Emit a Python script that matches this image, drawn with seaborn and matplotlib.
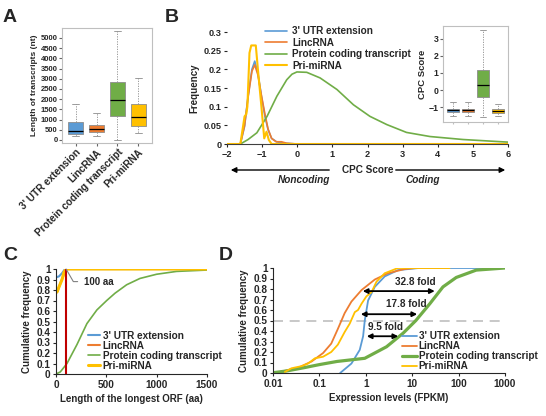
# Vier Panels: Transkriptlaengen, CPC-Score, ORF-Laenge, Expression

import pandas as pd
import matplotlib
matplotlib.use("Agg")
import matplotlib.pyplot as plt
import seaborn as sns

sns.set_style("ticks")
plt.rcParams['font.family'] = ['Liberation Sans', 'DejaVu Sans']
plt.rcParams['font.weight'] = 'bold'
plt.rcParams['axes.labelweight'] = 'bold'

gruppen = ["3' UTR extension", "LincRNA", "Protein coding transcript", "Pri-miRNA"]
farben = dict(zip(gruppen, ["#5B9BD5", "#ED7D31", "#70AD47", "#FFC000"]))

# A: Laenge der Transkripte (min, q1, median, q3, max)
laenge_utr = [200, 280, 450, 860, 1750]
laenge_linc = [200, 400, 560, 750, 1300]
laenge_pct = [0, 1150, 1950, 2820, 5350]
laenge_pri = [330, 680, 1120, 1760, 3020]

# B Inset: CPC Score (min, q1, median, q3, max)
cpc_utr = [-1.55, -1.3, -1.2, -1.1, -0.7]
cpc_linc = [-1.55, -1.3, -1.2, -1.1, -0.7]
cpc_pct = [-1.6, -0.4, 0.3, 1.2, 3.5]
cpc_pri = [-1.5, -1.35, -1.25, -1.1, -0.85]

# B: Frequenz der CPC Scores
cpc_x_utr = [-2, -1.62, -1.5, -1.4, -1.29, -1.21, -1.12, -1.02, -0.92, -0.83, -0.73, -0.59, -0.35, 0, 6]
cpc_y_utr = [0, 0, 0.047, 0.128, 0.2, 0.222, 0.19, 0.128, 0.074, 0.038, 0.015, 0.006, 0.002, 0, 0]
cpc_x_linc = [-2, -1.62, -1.5, -1.4, -1.29, -1.21, -1.12, -1.02, -0.92, -0.83, -0.73, -0.6, -0.45, -0.3, 0, 6]
cpc_y_linc = [0, 0, 0.05, 0.125, 0.195, 0.212, 0.185, 0.13, 0.08, 0.04, 0.015, 0.006, 0.006, 0.002, 0, 0]
cpc_x_pct = [-2, -1.62, -1.4, -1.15, -0.86, -0.58, -0.3, -0.15, -0.01, 0.27, 0.65, 1.13, 1.6, 2.07,
             2.55, 3.11, 3.78, 4.72, 6.0]
cpc_y_pct = [0, 0, 0.012, 0.03, 0.074, 0.128, 0.172, 0.187, 0.193, 0.192, 0.177, 0.146, 0.105, 0.074,
             0.052, 0.031, 0.020, 0.012, 0.005]
cpc_x_pri = [-2, -1.62, -1.5, -1.45, -1.42, -1.36, -1.31, -1.18, -1.12, -1.02, -0.94, -0.875, -0.81, -0.73, 6]
cpc_y_pri = [0, 0, 0.074, 0.08, 0.1, 0.244, 0.264, 0.264, 0.2, 0.1, 0.015, 0.033, 0.011, 0, 0]

# C: Laenge des laengsten ORF, kumulativ
orf_x_utr = [0, 30, 60, 90, 1500]
orf_y_utr = [0.92, 0.93, 0.96, 1.0, 1.0]
orf_x_linc = [0, 20, 50, 80, 95, 1500]
orf_y_linc = [0.77, 0.80, 0.88, 0.95, 1.0, 1.0]
orf_x_pct = [0, 43, 109, 208, 307, 406, 504, 587, 702, 834, 999, 1197, 1500]
orf_y_pct = [0, 0.02, 0.10, 0.28, 0.48, 0.61, 0.70, 0.77, 0.85, 0.91, 0.95, 0.977, 0.99]
orf_x_pri = [0, 10, 30, 60, 80, 100, 1500]
orf_y_pri = [0.80, 0.78, 0.83, 0.90, 0.97, 1.0, 1.0]
orf_grenze = 100

# D: Expression (FPKM), kumulativ
fpkm_x_utr = [0.28, 0.49, 0.74, 0.875, 0.95, 1.12, 1.56, 2.56, 4.95, 14, 500]
fpkm_y_utr = [0, 0.09, 0.22, 0.35, 0.50, 0.69, 0.82, 0.92, 0.98, 1.0, 1.0]
fpkm_x_linc = [0.011, 0.035, 0.068, 0.12, 0.18, 0.25, 0.35, 0.49, 0.81, 1.56, 3.0, 6.9, 12, 60]
fpkm_y_linc = [0, 0.05, 0.11, 0.19, 0.28, 0.42, 0.57, 0.68, 0.79, 0.89, 0.95, 0.99, 1.0, 1.0]
fpkm_x_pct = [0.009, 0.02, 0.046, 0.1, 0.24, 0.95, 2.8, 6.4, 12, 24, 46, 89, 240, 1000]
fpkm_y_pct = [0, 0.02, 0.05, 0.08, 0.11, 0.14, 0.25, 0.38, 0.50, 0.66, 0.82, 0.91, 0.98, 1.0]
fpkm_x_pri = [0.018, 0.025, 0.041, 0.057, 0.08, 0.12, 0.18, 0.25, 0.35, 0.45, 0.58, 0.68, 0.81,
              1.03, 1.33, 1.7, 2.56, 4.95, 64]
fpkm_y_pri = [0.01, 0.045, 0.065, 0.09, 0.14, 0.155, 0.20, 0.27, 0.39, 0.47, 0.58, 0.60, 0.66,
              0.73, 0.77, 0.87, 0.95, 1.0, 1.0]
fold_links = [0.86, 0.78, 1.05]
fold_rechts = [30.6, 12.8, 5.0]
fold_y = [0.78, 0.56, 0.35]
fold_text = ["32.8 fold", "17.8 fold", "9.5 fold"]
fold_text_x = [11.4, 7.5, 2.6]
fold_text_y = [0.87, 0.655, 0.435]


W, H = 546, 416
def box(x0, y0, x1, y1):
    # Pixel -> Figure-Koordinaten
    return [x0 / W, 1 - y1 / H, (x1 - x0) / W, (y1 - y0) / H]

fig = plt.figure(figsize=(5.46, 4.16), dpi=100)
ax_a = fig.add_axes(box(62, 28, 152, 143))
ax_b = fig.add_axes(box(227, 32, 508, 144))
ax_i = fig.add_axes(box(443, 26, 508, 122))
ax_c = fig.add_axes(box(56, 269, 207, 374))
ax_d = fig.add_axes(box(273, 268, 505, 373))

grau = "#bfbfbf"


def boxen(ax, werte, breite):
    df = pd.DataFrame({"Typ": [g for g in gruppen for _ in range(5)],
                       "Wert": [v for w in werte for v in w]})
    sns.boxplot(data=df, x="Typ", y="Wert", hue="Typ", palette=farben, saturation=1,
                whis=(0, 100), width=breite, linewidth=0.6, linecolor="#8c8c8c",
                medianprops=dict(color="black", linewidth=0.9),
                whiskerprops=dict(linestyle=(0, (1.5, 1.5))), ax=ax)
    for s in ax.spines.values():
        s.set_visible(True)
        s.set_color(grau)
        s.set_linewidth(0.8)
    ax.set_xlim(-0.65, 3.65)


# A
boxen(ax_a, [laenge_utr, laenge_linc, laenge_pct, laenge_pri], 0.68)
ax_a.set_ylim(-150, 5490)
ax_a.set_yticks(range(0, 5001, 500))
ax_a.set_ylabel("Length of transcripts (nt)", fontsize=6, labelpad=2)
ax_a.set_xlabel("")
ax_a.set_xticks(range(4))
ax_a.set_xticklabels(gruppen, rotation=45, ha="right", rotation_mode="anchor", fontsize=7.2)
ax_a.tick_params(axis="y", labelsize=5.5, length=2, pad=1, color="#666666")
ax_a.tick_params(axis="x", length=2, pad=1, color="#666666")

# B
linien_b = [(cpc_x_utr, cpc_y_utr, 1.2), (cpc_x_linc, cpc_y_linc, 1.2),
            (cpc_x_pct, cpc_y_pct, 1.2), (cpc_x_pri, cpc_y_pri, 1.5)]
for g, (xs, ys, lw) in zip(gruppen, linien_b):
    sns.lineplot(x=xs, y=ys, color=farben[g], lw=lw, label=g, estimator=None, sort=False, ax=ax_b)
ax_b.set_xlim(-2, 6)
ax_b.set_ylim(0, 0.3)
ax_b.set_xticks(range(-2, 7))
ax_b.set_yticks([0, 0.05, 0.1, 0.15, 0.2, 0.25, 0.3])
ax_b.set_yticklabels(["0", "0.05", "0.1", "0.15", "0.2", "0.25", "0.3"])
ax_b.tick_params(labelsize=6.6, length=2, pad=2)
ax_b.spines[["top", "right", "left"]].set_visible(False)
ax_b.spines["bottom"].set_color("#404040")
ax_b.set_ylabel("Frequency", fontsize=7, labelpad=3)
ax_b.set_xlabel("CPC Score", fontsize=7.2)
ax_b.xaxis.set_label_coords(0.5, -0.19)
ax_b.legend(loc="upper left", bbox_to_anchor=(0.135, 1.05), frameon=False, fontsize=7.2,
            handlelength=2.2, handletextpad=0.5, labelspacing=0.15, borderpad=0, borderaxespad=0)

pfeil = dict(arrowstyle="-|>", color="black", lw=1.0, mutation_scale=8)
ax_b.annotate("", xy=(228 / W, 1 - 170 / H), xytext=(332 / W, 1 - 170 / H),
              xycoords="figure fraction", arrowprops=pfeil, annotation_clip=False)
ax_b.annotate("", xy=(508 / W, 1 - 170 / H), xytext=(393 / W, 1 - 170 / H),
              xycoords="figure fraction", arrowprops=pfeil, annotation_clip=False)
fig.text(304 / W, 1 - 180 / H, "Noncoding", style="italic", fontsize=7.2, ha="center", va="center")
fig.text(423 / W, 1 - 180 / H, "Coding", style="italic", fontsize=7.2, ha="center", va="center")

# B Inset
boxen(ax_i, [cpc_utr, cpc_linc, cpc_pct, cpc_pri], 0.8)
ax_i.set_ylim(-1.88, 3.76)
ax_i.set_yticks([-1, 0, 1, 2, 3])
ax_i.set_xticks(range(4))
ax_i.set_xticklabels([])
ax_i.set_xlabel("")
ax_i.set_ylabel("CPC Score", fontsize=6.8, labelpad=1)
ax_i.tick_params(axis="y", labelsize=6.3, length=2, pad=1, color="#666666")
ax_i.tick_params(axis="x", length=1.5, color=grau)
ax_i.set_facecolor("white")

# C
linien_c = [(orf_x_utr, orf_y_utr, 1.5), (orf_x_linc, orf_y_linc, 1.5),
            (orf_x_pct, orf_y_pct, 1.2), (orf_x_pri, orf_y_pri, 2.2)]
for g, (xs, ys, lw) in zip(gruppen, linien_c):
    sns.lineplot(x=xs, y=ys, color=farben[g], lw=lw, label=g, estimator=None, sort=False, ax=ax_c)
ax_c.axvline(orf_grenze, color="#C00000", lw=1.5, ymin=0, ymax=1)
ax_c.annotate("100 aa", xy=(orf_grenze, 1.0), xytext=(275, 0.88), fontsize=7, va="center",
              arrowprops=dict(arrowstyle="-", color="gray", lw=0.8, shrinkA=2, shrinkB=0,
                              connectionstyle="angle,angleA=0,angleB=120,rad=0"))
ax_c.set_xlim(0, 1500)
ax_c.set_ylim(0, 1)
ax_c.set_xticks([0, 500, 1000, 1500])
ax_c.set_yticks([i / 10 for i in range(11)])
ax_c.set_yticklabels(["0"] + ["0.%d" % i for i in range(1, 10)] + ["1"])
ax_c.tick_params(labelsize=7.2, length=2, pad=2)
ax_c.spines[["top", "right"]].set_visible(False)
ax_c.set_xlabel("Length of the longest ORF (aa)", fontsize=7, labelpad=3)
ax_c.set_ylabel("Cumulative frequency", fontsize=7, labelpad=3)
ax_c.legend(loc="upper left", bbox_to_anchor=(0.21, 0.41), frameon=False, fontsize=7.2,
            handlelength=1.2, handletextpad=0.3, labelspacing=0.0, borderpad=0, borderaxespad=0)

# D
linien_d = [(fpkm_x_utr, fpkm_y_utr, 1.3), (fpkm_x_linc, fpkm_y_linc, 1.3),
            (fpkm_x_pct, fpkm_y_pct, 2.3), (fpkm_x_pri, fpkm_y_pri, 1.3)]
ax_d.axhline(0.5, color=grau, lw=1.2, ls=(0, (6, 4)))
for g, (xs, ys, lw) in zip(gruppen, linien_d):
    sns.lineplot(x=xs, y=ys, color=farben[g], lw=lw, label=g, estimator=None, sort=False, ax=ax_d)
ax_d.set_xscale("log")
ax_d.set_xlim(0.01, 1000)
ax_d.set_ylim(0, 1)
ax_d.set_xticks([0.01, 0.1, 1, 10, 100, 1000])
ax_d.set_xticklabels(["0.01", "0.1", "1", "10", "100", "1000"])
ax_d.minorticks_off()
ax_d.set_yticks([i / 10 for i in range(11)])
ax_d.set_yticklabels(["0"] + ["0.%d" % i for i in range(1, 10)] + ["1"])
ax_d.tick_params(labelsize=7.2, length=2, pad=2)
ax_d.spines[["top", "right"]].set_visible(False)
ax_d.set_xlabel("Expression levels (FPKM)", fontsize=7, labelpad=3)
ax_d.set_ylabel("Cumulative frequency", fontsize=7, labelpad=3)
for x0, x1, y, t, tx, ty in zip(fold_links, fold_rechts, fold_y, fold_text, fold_text_x, fold_text_y):
    ax_d.annotate("", xy=(x1, y), xytext=(x0, y),
                  arrowprops=dict(arrowstyle="<|-|>", color="black", lw=1.3, mutation_scale=7,
                                  shrinkA=0, shrinkB=0))
    ax_d.text(tx, ty, t, fontsize=7.2, ha="center", va="center")
ax_d.legend(loc="upper left", bbox_to_anchor=(0.555, 0.40), frameon=False, fontsize=7.2,
            handlelength=1.5, handletextpad=0.2, labelspacing=0.0, borderpad=0, borderaxespad=0)

# Panel-Buchstaben
for buchstabe, (px, py) in zip("ABCD", [(3, 9), (165, 9), (3, 247), (219, 247)]):
    fig.text(px / W, 1 - py / H, buchstabe, fontsize=14, fontweight="bold", va="top", ha="left")

fig.savefig("out.png", dpi=100)
